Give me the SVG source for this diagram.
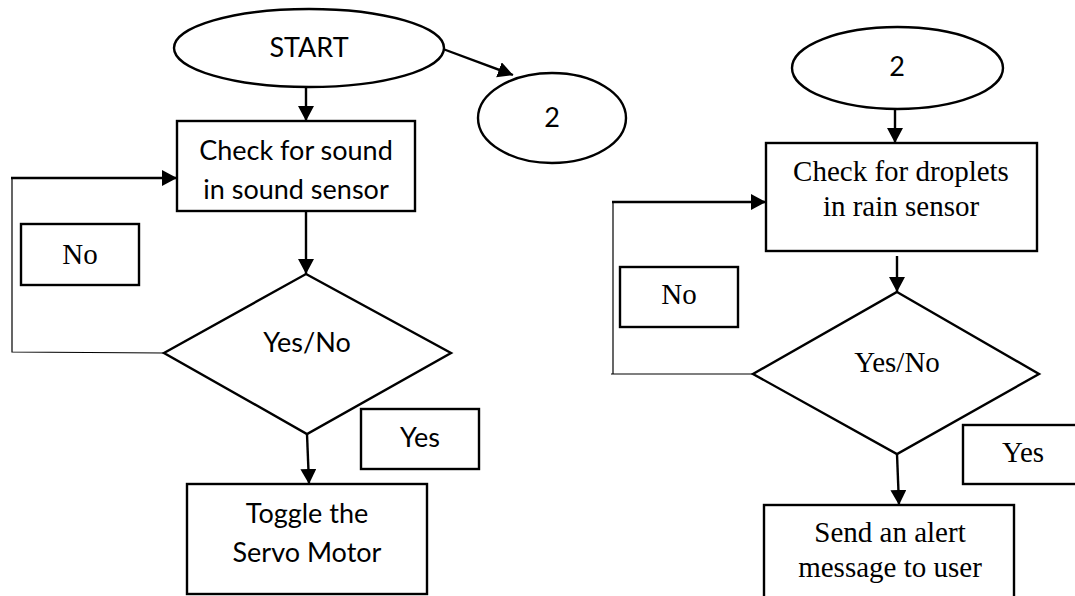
<svg xmlns="http://www.w3.org/2000/svg" width="1075" height="596" viewBox="0 0 1075 596">
<defs>
<marker id="ah" markerUnits="userSpaceOnUse" markerWidth="18" markerHeight="18" refX="15" refY="8" orient="auto">
<path d="M0,0 L15,8 L0,16 Z" fill="#000"/>
</marker>
<style>
.s{fill:#fff;stroke:#000;stroke-width:2.4}
.c{fill:none;stroke:#000;stroke-width:2.4}
.t{fill:none;stroke:#000;stroke-width:1.2}
.sans{font-family:Lato,"Liberation Sans",sans-serif;font-size:27px;fill:#000;text-anchor:middle}
.serif{font-family:"Liberation Serif","Times New Roman",serif;font-size:29px;fill:#000;text-anchor:middle}
</style>
</defs>
<rect width="1075" height="596" fill="#fff"/>
<g id="connectors">
<line class="c" x1="306" y1="87" x2="306" y2="121" marker-end="url(#ah)"/>
<line class="c" x1="443" y1="49" x2="513" y2="75" marker-end="url(#ah)"/>
<line class="c" x1="306" y1="211" x2="306" y2="274" marker-end="url(#ah)"/>
<line class="c" x1="307" y1="434" x2="309" y2="484" marker-end="url(#ah)"/>
<polyline class="t" points="164,353 12,352 12,178"/>
<line class="c" x1="11" y1="178" x2="177" y2="178" marker-end="url(#ah)"/>
<line class="c" x1="895" y1="109" x2="895" y2="143" marker-end="url(#ah)"/>
<line class="c" x1="897" y1="256" x2="897" y2="292" marker-end="url(#ah)"/>
<line class="c" x1="897" y1="454" x2="899" y2="505" marker-end="url(#ah)"/>
<polyline class="t" points="753,374 611,374"/>
<line class="t" x1="613" y1="374" x2="613" y2="202"/>
<line class="c" x1="612" y1="202" x2="766" y2="202" marker-end="url(#ah)"/>
</g>
<g id="start">
<ellipse class="s" cx="309" cy="48" rx="135" ry="39"/>
<text class="sans" x="309" y="57">START</text>
</g>
<g id="connector2a">
<ellipse class="s" cx="552" cy="118" rx="74" ry="45"/>
<text class="sans" x="552" y="127">2</text>
</g>
<g id="checkSound">
<rect class="s" x="177" y="121" width="238" height="90"/>
<text class="sans" x="296" y="160">Check for sound</text>
<text class="sans" x="296" y="199">in sound sensor</text>
</g>
<g id="noLeft">
<rect class="s" x="21" y="224" width="118" height="61"/>
<text class="serif" x="80" y="264">No</text>
</g>
<g id="decisionLeft">
<polygon class="s" points="306,274 451,353 307,434 164,353"/>
<text class="sans" x="307" y="352">Yes/No</text>
</g>
<g id="yesLeft">
<rect class="s" x="361" y="409" width="118" height="60"/>
<text class="sans" x="420" y="447">Yes</text>
</g>
<g id="toggle">
<rect class="s" x="187" y="484" width="240" height="110"/>
<text class="sans" x="307" y="523">Toggle the</text>
<text class="sans" x="307" y="562">Servo Motor</text>
</g>
<g id="connector2b">
<ellipse class="s" cx="897.5" cy="68" rx="105.5" ry="41"/>
<text class="sans" x="897" y="76">2</text>
</g>
<g id="checkRain">
<rect class="s" x="766" y="143" width="271" height="108"/>
<text class="serif" x="901" y="181">Check for droplets</text>
<text class="serif" x="901" y="216">in rain sensor</text>
</g>
<g id="noRight">
<rect class="s" x="620" y="267" width="118" height="60"/>
<text class="serif" x="679" y="304">No</text>
</g>
<g id="decisionRight">
<polygon class="s" points="897,292 1039,374 897,454 753,374"/>
<text class="serif" x="897" y="372">Yes/No</text>
</g>
<g id="yesRight">
<rect class="s" x="963" y="425" width="130" height="59"/>
<text class="serif" x="1023" y="462">Yes</text>
</g>
<g id="sendAlert">
<rect class="s" x="764" y="505" width="250" height="110"/>
<text class="serif" x="890" y="542">Send an alert</text>
<text class="serif" x="890" y="577">message to user</text>
</g>
</svg>
